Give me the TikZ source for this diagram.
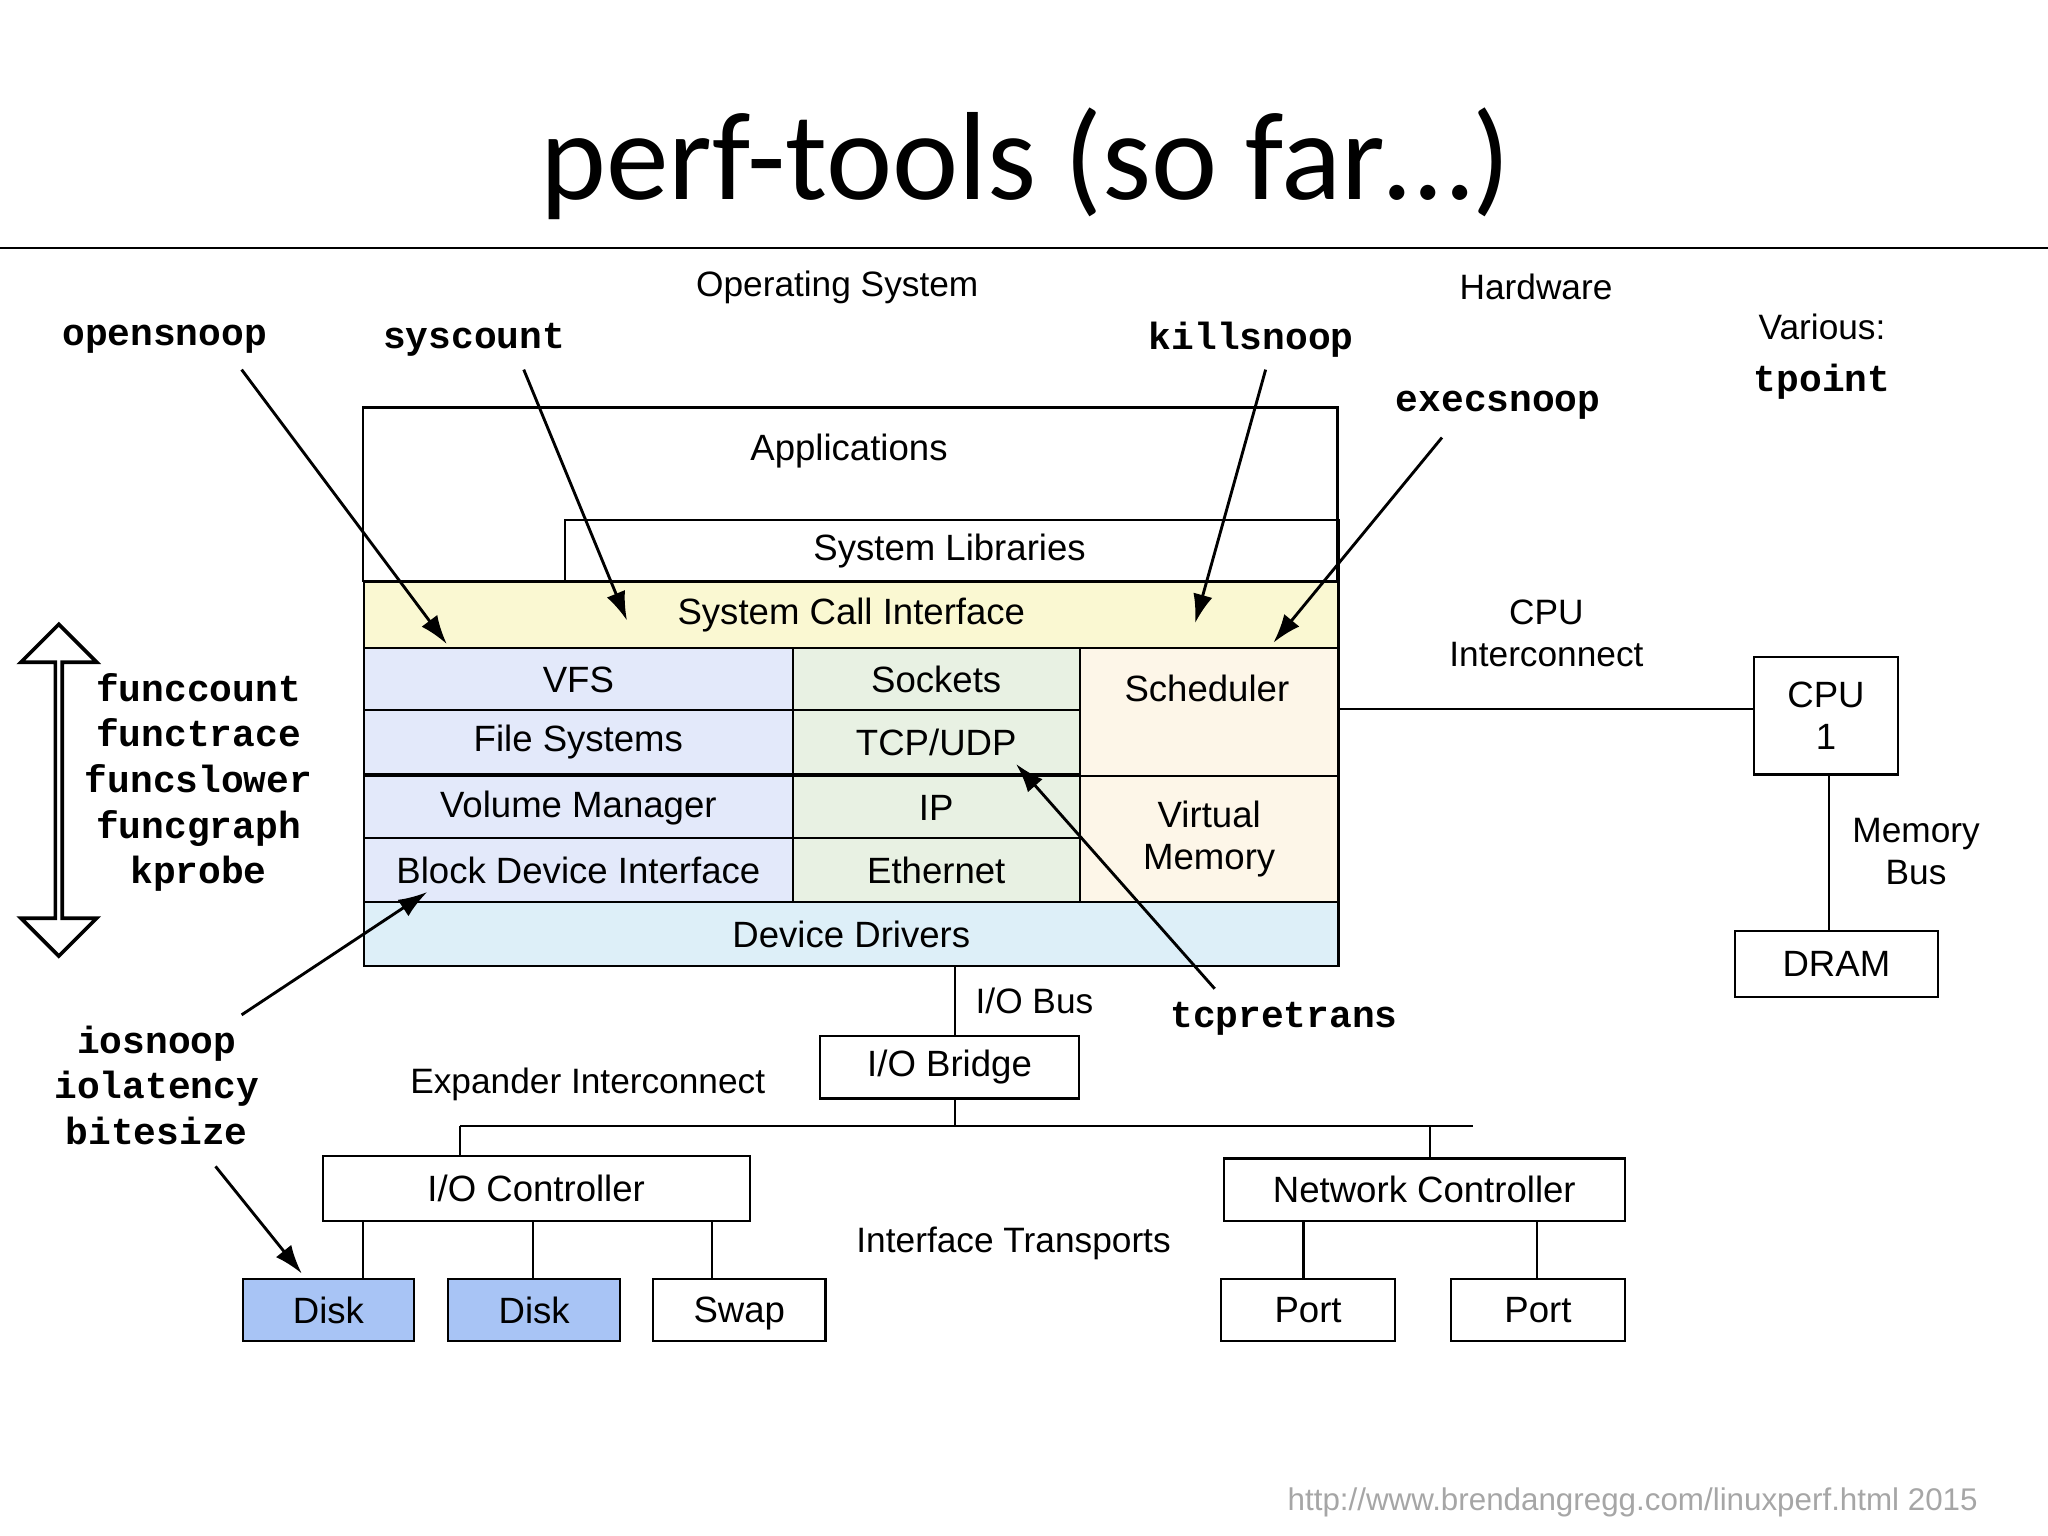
\documentclass[tikz,border=0pt]{standalone}
\usepackage{fontspec}
\setmainfont{Liberation Sans}
\newfontfamily\titlef{Carlito}
\newfontfamily\monof{Liberation Mono}
\usetikzlibrary{arrows.meta,shapes.arrows}
\definecolor{cyel}{HTML}{FAF8D2}
\definecolor{cblue}{HTML}{E3E9FA}
\definecolor{cgreen}{HTML}{E8F1E3}
\definecolor{cpeach}{HTML}{FDF6E8}
\definecolor{cdrv}{HTML}{DDEFF8}
\definecolor{cdisk}{HTML}{A8C4F5}
\begin{document}
\begin{tikzpicture}[x=0.5pt,y=-0.5pt,
  box/.style={draw,line width=0.8pt,font=\fontsize{14}{16}\selectfont},
  lbl/.style={font=\fontsize{13.5}{16}\selectfont,align=center},
  tool/.style={font=\monof\bfseries\fontsize{14.5}{17}\selectfont,align=center},
  arr/.style={line width=1.1pt,-{Latex[length=11pt,width=7.5pt]}},
  ln/.style={line width=0.8pt}]
\useasboundingbox (0,0) rectangle (1568,1176);
\node[font=\titlef\fontsize{48}{48}\selectfont] (title) at (785,125) {perf-tools (so far…)};
\draw[line width=0.6pt] (0,190) coordinate (hl) -- (1568,190) coordinate (hr);
% OS stack
\draw[ln] (278,312) rectangle (1024,445);
\node[font=\fontsize{14}{16}\selectfont] (app) at (650,345) {Applications};
\node[box,minimum width=296pt,minimum height=24pt,anchor=north west] (lib) at (432,397) {};
\node[font=\fontsize{14}{16}\selectfont] at (727,422) {System Libraries};
\node[box,fill=cyel,minimum width=373pt,minimum height=25pt,anchor=north west] (sci) at (278,445) {System Call Interface};
\foreach \n/\t/\y in {vfs/VFS/495,fs/File Systems/543,vm/Volume Manager/593,bdi/Block Device Interface/641}
  \node[box,fill=cblue,minimum width=164pt,minimum height=24.5pt,anchor=north west,inner sep=0] (\n) at (278,\y) {\t};
\foreach \n/\t/\y in {sock/Sockets/495,tcp/{TCP/UDP}/543,ip/IP/593,eth/Ethernet/641}
  \node[box,fill=cgreen,minimum width=110pt,minimum height=24.5pt,anchor=north west,inner sep=0] (\n) at (606,\y) {\t};
\node[box,fill=cpeach,minimum width=99pt,minimum height=49pt,anchor=north west] (sch) at (826,495) {};
\node[font=\fontsize{14}{16}\selectfont] at (924,527) {Scheduler};
\node[box,fill=cpeach,minimum width=99pt,minimum height=48.5pt,anchor=north west,align=center] (vmem) at (826,593) {Virtual\\Memory};
\node[box,fill=cdrv,minimum width=373pt,minimum height=24.5pt,anchor=north west] (drv) at (278,690) {Device Drivers};
% Hardware
\node[box,minimum width=55pt,minimum height=45pt,align=center] (cpu) at (1398,548) {CPU\\1};
\node[box,minimum width=77.5pt,minimum height=25pt] (dram) at (1406,738) {DRAM};
\draw[ln] (1024,543) -- (cpu.west |- 0,543);
\draw[ln] (1400,593) -- (1400,713);
\node[box,minimum width=99pt,minimum height=24pt] (iob) at (727,817) {I/O Bridge};
\draw[ln] (731,739) -- (731,793);
\coordinate (bl) at (352,862); \coordinate (br) at (1128,862);
\draw[ln] (731,841) -- (731,862);
\draw[ln] (bl) -- (br);
\node[box,minimum width=163.5pt,minimum height=25pt] (ioc) at (410.5,910) {I/O Controller};
\node[box,minimum width=153.5pt,minimum height=24pt] (nc) at (1090.5,911) {Network Controller};
\draw[ln] (352,862) -- (352,885);
\draw[ln] (1095,862) -- (1095,887);
\node[box,fill=cdisk,minimum width=65.5pt,minimum height=24pt,text depth=0pt] (d1) at (251.5,1003) {Disk};
\node[box,fill=cdisk,minimum width=66pt,minimum height=24pt,text depth=0pt] (d2) at (409,1003) {Disk};
\node[box,minimum width=66pt,minimum height=24pt,text depth=0pt] (swap) at (566,1003) {Swap};
\node[box,minimum width=66.5pt,minimum height=24pt,text depth=0pt] (p1) at (1001.5,1003) {Port};
\node[box,minimum width=66.5pt,minimum height=24pt,text depth=0pt] (p2) at (1177.5,1003) {Port};
\draw[ln] (278,935) -- (278,979);
\draw[ln] (408,935) -- (408,979);
\draw[ln] (545,935) -- (545,979);
\draw[ln] (998,935) -- (998,979);
\draw[ln] (1177,935) -- (1177,979);
% labels
\node[lbl] at (641,220) {Operating System};
\node[lbl] at (1176,220) {Hardware};
\node[lbl] at (1395,250) {Various:};
\node[tool] at (1395,292) {tpoint};
\node[lbl] at (1184,485) {CPU\\Interconnect};
\node[lbl] at (1467,652) {Memory\\Bus};
\node[lbl] at (792,766) {I/O Bus};
\node[lbl] at (450,830) {Expander Interconnect};
\node[lbl] at (776,952) {Interface Transports};
\node[font=\fontsize{12}{14}\selectfont,text=black!35] at (1250,1150) {http://www.brendangregg.com/linuxperf.html 2015};
% tools
\node[tool] (ops) at (126,260) {opensnoop};
\node[tool] (sysc) at (363,260) {syscount};
\node[tool] (kill) at (958,260) {killsnoop};
\node[tool] (exec) at (1147,310) {execsnoop};
\node[tool] (tcpr) at (983,780) {tcpretrans};
\node[tool,font=\monof\bfseries\fontsize{14.5}{17.5}\selectfont] (func) at (152,599) {funccount\\functrace\\funcslower\\funcgraph\\kprobe};
\node[tool,font=\monof\bfseries\fontsize{14.5}{17.5}\selectfont] (ios) at (120,831) {iosnoop\\iolatency\\bitesize};
\coordinate (a1s) at (185,283); \coordinate (a1e) at (342,493);
\coordinate (a2s) at (401,283); \coordinate (a2e) at (480,475);
\coordinate (a3s) at (969,283); \coordinate (a3e) at (915,477);
\coordinate (a4s) at (1104,335); \coordinate (a4e) at (975,492);
\coordinate (a5s) at (930,757); \coordinate (a5e) at (778,585);
\coordinate (a6s) at (185,777); \coordinate (a6e) at (327,683);
\coordinate (a7s) at (165,893); \coordinate (a7e) at (231,975);
\foreach \i in {1,...,7} \draw[arr] (a\i s) -- (a\i e);
\node[double arrow,draw,line width=1.4pt,rotate=90,minimum height=127pt,minimum width=29pt,double arrow head extend=7pt,inner sep=0] (dbl) at (45,605) {};
\end{tikzpicture}
\end{document}
